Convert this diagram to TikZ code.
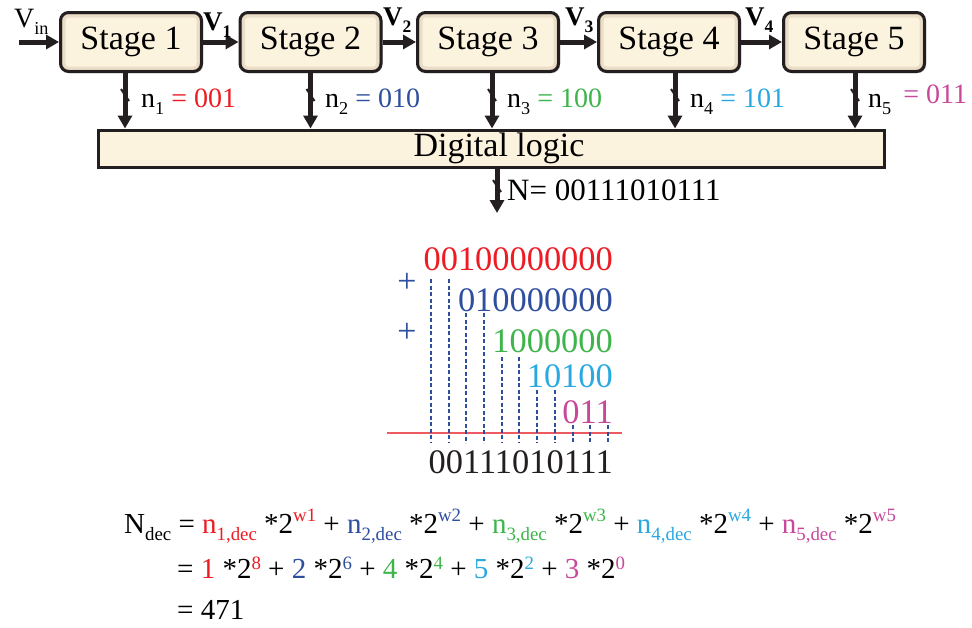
\documentclass[tikz,border=0pt]{standalone}
\usepackage{fontspec}
\setmainfont{Liberation Serif}
\usetikzlibrary{arrows.meta,shadows}
\definecolor{cr}{HTML}{ED1C24}
\definecolor{cbl}{HTML}{2E4E9E}
\definecolor{cg}{HTML}{3DB54A}
\definecolor{cc}{HTML}{29A9E0}
\definecolor{cm}{HTML}{C9489B}
\definecolor{ink}{HTML}{231F20}
\definecolor{cream}{HTML}{FCF3DF}
\definecolor{rline}{HTML}{EE5A62}
\newcommand\myfs[1]{\fontsize{#1}{#1}\selectfont}
\newcommand\mysub[1]{\raisebox{-0.26em}{\scalebox{0.65}{#1}}}
\newcommand\mysup[2][0.38em]{\raisebox{#1}{\scalebox{0.65}{#2}}}
\begin{document}
\begin{tikzpicture}[x=1pt,y=-1pt,
  stagebox/.style={draw=ink, line width=3pt, rounded corners=8pt, fill=cream,
    minimum width=141pt, minimum height=59pt, inner sep=0pt, font=\myfs{34},
    drop shadow={shadow xshift=1.5pt, shadow yshift=-1.5pt, opacity=0.35, fill=black!60},
    path picture={
      \draw[brown!60!black, opacity=0.12, line width=10pt, rounded corners=8pt]
        (path picture bounding box.south west) rectangle (path picture bounding box.north east);
      \draw[brown!60!black, opacity=0.2, line width=4pt, rounded corners=8pt]
        (path picture bounding box.south west) rectangle (path picture bounding box.north east);}},
  arr/.style={draw=ink, line width=5pt, -{Triangle[length=13pt,width=14pt]}},
  tick/.style={draw=ink, line width=2pt},
  lbl/.style={anchor=base west, inner sep=0pt},
  dline/.style={draw=cbl, line width=2pt, dash pattern=on 4pt off 2.5pt}]
\useasboundingbox (0,0) rectangle (972,627);
\fill[white] (0,0) rectangle (972,627);

% stages
\node[stagebox] (s1) at (131,42) {Stage 1};
\node[stagebox] (s2) at (310.5,42) {Stage 2};
\node[stagebox] (s3) at (488,42) {Stage 3};
\node[stagebox] (s4) at (669,42) {Stage 4};
\node[stagebox] (s5) at (854,42) {Stage 5};

\node[draw=ink, line width=3pt, fill=cream, minimum width=786pt, minimum height=37pt,
  inner sep=0pt, font=\myfs{34}] (dl) at (491,148.5) {\hspace*{16pt}Digital logic};

% horizontal arrows
\coordinate (vin) at (19,42);
\draw[arr] (vin) -- (s1.west);
\draw[arr] (s1.east) -- (s2.west);
\draw[arr] (s2.east) -- (s3.west);
\draw[arr] (s3.east) -- (s4.west);
\draw[arr] (s4.east) -- (s5.west);

\node[lbl, font=\myfs{28}] (lvin) at (14,27) {V\mysub{in}};
\node[lbl, font=\bfseries\myfs{27}] (lv1) at (203,30) {V\mysub{1}};
\node[lbl, font=\bfseries\myfs{27}] (lv2) at (383,25) {V\mysub{2}};
\node[lbl, font=\bfseries\myfs{27}] (lv3) at (565,25) {V\mysub{3}};
\node[lbl, font=\bfseries\myfs{27}] (lv4) at (745,25) {V\mysub{4}};

% vertical arrows
\draw[arr] ([xshift=-6pt]s1.south) -- ([xshift=-6pt]s1.south |- dl.north);
\draw[arr] (s2.south) -- (s2.south |- dl.north);
\draw[arr] ([xshift=4pt]s3.south) -- ([xshift=4pt]s3.south |- dl.north);
\draw[arr] ([xshift=6pt]s4.south) -- ([xshift=6pt]s4.south |- dl.north);
\draw[arr] ([xshift=1pt]s5.south) -- ([xshift=1pt]s5.south |- dl.north);

\coordinate (t1) at (125,95);
\coordinate (t2) at (310.5,95);
\coordinate (t3) at (492,95);
\coordinate (t4) at (675,95);
\coordinate (t5) at (855,95);
\foreach \t in {t1,t2,t3,t4,t5}
  \draw[tick] ([shift={(-4,-6)}]\t) -- ([shift={(4,6)}]\t);

\node[lbl, font=\myfs{28}] (l1) at (141,107) {n\mysub{1} \textcolor{cr}{= 001}};
\node[lbl, font=\myfs{28}] (l2) at (325,107) {n\mysub{2} \textcolor{cbl}{= 010}};
\node[lbl, font=\myfs{28}] (l3) at (507,107) {n\mysub{3} \textcolor{cg}{= 100}};
\node[lbl, font=\myfs{28}] (l4) at (690,107) {n\mysub{4} \textcolor{cc}{= 101}};
\node[lbl, font=\myfs{28}] (l5) at (868,107) {n\mysub{5}\hspace{12pt}\raisebox{4pt}{\textcolor{cm}{= 011}}};

% output
\coordinate (nout) at (497,213);
\draw[arr] (dl.south -| nout) -- (nout);
\coordinate (t6) at (497,186);
\draw[tick] ([shift={(-4,-6)}]t6) -- ([shift={(4,6)}]t6);
\node[lbl, font=\myfs{31}] (nl) at (507,200) {N= 00111010111};

% addition
\node[anchor=base east, inner sep=0pt, font=\myfs{34.4}, text=cr] (ra) at (613,270) {00100000000};
\node[anchor=base east, inner sep=0pt, font=\myfs{34.4}, text=cbl] (rb) at (613,311) {010000000};
\node[anchor=base east, inner sep=0pt, font=\myfs{34.4}, text=cg] (rc) at (613,352) {1000000};
\node[anchor=base east, inner sep=0pt, font=\myfs{34.4}, text=cc] (rd) at (613,387) {10100};
\node[anchor=base east, inner sep=0pt, font=\myfs{34.4}, text=cm] (re) at (613,423) {011};
\node[anchor=base east, inner sep=0pt, font=\myfs{34.4}, text=ink] (rs) at (613,473) {00111010111};
\node[text=cbl, font=\myfs{34}, inner sep=0pt] (p1) at (407,283) {+};
\node[text=cbl, font=\myfs{34}, inner sep=0pt] (p2) at (407,333) {+};

\draw[rline, line width=1.2pt] (387,433) -- (622,433);
\foreach \x/\ys in {431/279,449/279,466/313,484/313,502/357,519/357,537/390,555/390,573/425,590/425,608/425}
  \draw[dline] (\x,\ys) -- (\x,443);

% equations
\node[lbl, font=\myfs{29}] (eq1) at (124,533) {N\mysub{dec} = \textcolor{cr}{n\mysub{1,dec}} *2\mysup{\textcolor{cr}{w1}} + \textcolor{cbl}{n\mysub{2,dec}} *2\mysup{\textcolor{cbl}{w2}} + \textcolor{cg}{n\mysub{3,dec}} *2\mysup{\textcolor{cg}{w3}} + \textcolor{cc}{n\mysub{4,dec}} *2\mysup{\textcolor{cc}{w4}} + \textcolor{cm}{n\mysub{5,dec}} *2\mysup{\textcolor{cm}{w5}}};
\node[lbl, font=\myfs{29}] (eq2) at (177,578) {= \textcolor{cr}{1} *2\mysup[0.28em]{\textcolor{cr}{8}} + \textcolor{cbl}{2} *2\mysup[0.28em]{\textcolor{cbl}{6}} + \textcolor{cg}{4} *2\mysup[0.28em]{\textcolor{cg}{4}} + \textcolor{cc}{5} *2\mysup[0.28em]{\textcolor{cc}{2}} + \textcolor{cm}{3} *2\mysup[0.28em]{\textcolor{cm}{0}}};
\node[lbl, font=\myfs{29}] (eq3) at (177,619) {= 471};
\end{tikzpicture}
\end{document}
